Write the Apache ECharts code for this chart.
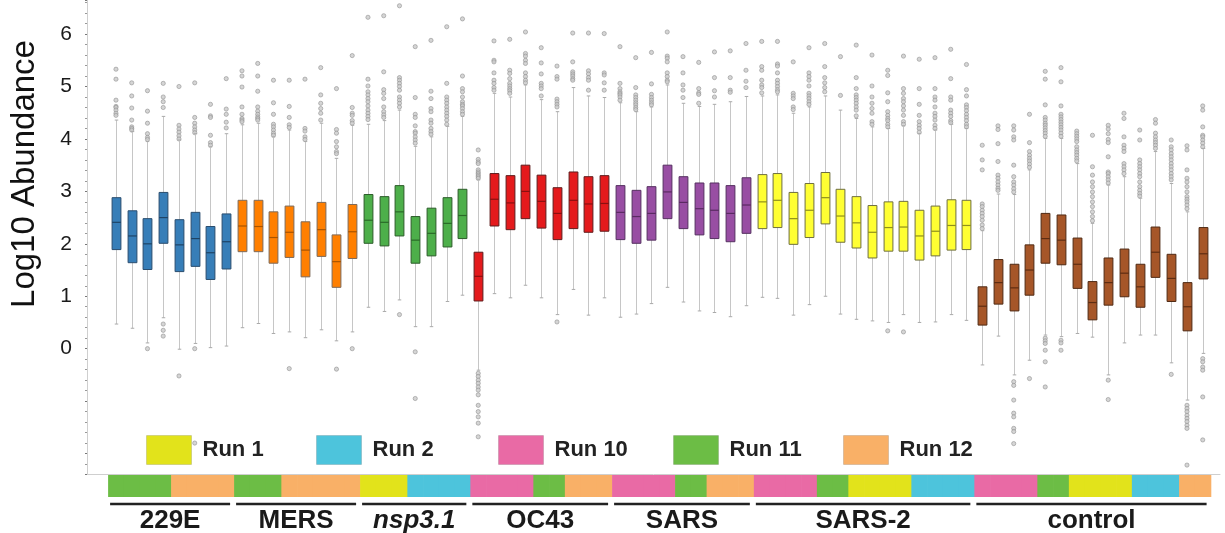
<!DOCTYPE html>
<html><head><meta charset="utf-8">
<script src="https://cdn.jsdelivr.net/npm/echarts@6/dist/echarts.min.js"></script>
<style>html,body{margin:0;padding:0;background:#fff}#c{width:1225px;height:533px}</style>
</head><body><div id="c"></div>
<script>
// ---------------- DATA ----------------
const groups = ['229E', 'MERS', 'nsp3.1', 'OC43', 'SARS', 'SARS-2', 'control'];
const tickLabels = ['0', '1', '2', '3', '4', '5', '6'];
const runNames = ['Run 1', 'Run 2', 'Run 10', 'Run 11', 'Run 12'];
const runNumbers = [1, 2, 10, 11, 12];

// each box: [low whisker, Q1, median, Q3, high whisker] (log10 abundance)
const boxes229E = [
  [0.47, 1.89, 2.41, 2.88, 4.36], [0.39, 1.64, 2.15, 2.63, 4.14], [0.11, 1.51, 2.00, 2.48, 3.95],
  [0.59, 2.01, 2.50, 2.98, 4.43], [-0.01, 1.47, 1.98, 2.46, 3.98], [0.10, 1.57, 2.10, 2.60, 4.10],
  [0.02, 1.32, 1.83, 2.33, 3.85], [0.05, 1.52, 2.04, 2.57, 4.10]
];
const outliers229E = [
  [5.33, 5.14, 4.74, 4.62, 4.60, 4.55, 4.49, 4.45], [5.07, 4.82, 4.59, 4.36, 4.23, 4.20, 4.17],
  [4.92, 4.53, 4.30, 4.10, 4.03, 3.99, 0.00], [5.06, 4.80, 4.71, 4.60, 0.47, 0.35, 0.24],
  [5.00, 4.26, 4.19, 4.13, 4.06, 4.00, -0.52], [5.07, 4.41, 4.30, 4.23, 4.17, 4.12, 0.00, -1.80],
  [4.66, 4.44, 4.41, 4.07, 3.93, 3.88], [5.15, 4.57, 4.47, 4.32, 4.21]
];
const runs229E = [11, 11, 11, 11, 12, 12, 12, 12];

const boxesMERS = [
  [0.40, 1.85, 2.34, 2.83, 4.27], [0.48, 1.85, 2.33, 2.83, 4.30], [0.29, 1.63, 2.12, 2.61, 4.04],
  [0.32, 1.74, 2.22, 2.72, 4.17], [0.21, 1.37, 1.88, 2.42, 3.95], [0.36, 1.76, 2.27, 2.79, 4.30],
  [0.15, 1.17, 1.66, 2.17, 3.63], [0.32, 1.72, 2.23, 2.75, 4.26]
];
const outliersMERS = [
  [5.30, 5.20, 4.99, 4.61, 4.47, 4.39, 4.36, 4.33], [5.44, 5.20, 4.91, 4.61, 4.53, 4.47, 4.42, 4.39, 4.36],
  [5.12, 4.69, 4.47, 4.28, 4.23, 4.17, 4.11, 4.07], [5.12, 4.62, 4.41, 4.27, 4.22, -0.38],
  [5.14, 4.20, 4.15, 4.04, 3.99], [5.36, 4.84, 4.68, 4.58, 4.49, 4.36],
  [4.96, 4.18, 4.11, 3.95, 3.85, 3.76, 3.72, -0.39], [5.59, 4.60, 4.49, 4.45, 4.35, 4.30, 0.00]
];
const runsMERS = [11, 11, 11, 12, 12, 12, 12, 12];

const boxesNsp = [
  [0.79, 2.01, 2.45, 2.94, 4.28], [0.71, 1.96, 2.41, 2.90, 4.35], [0.93, 2.15, 2.61, 3.11, 4.55],
  [0.42, 1.63, 2.07, 2.52, 3.86], [0.42, 1.77, 2.20, 2.68, 4.04], [0.90, 1.94, 2.39, 2.88, 4.24],
  [1.02, 2.10, 2.54, 3.04, 4.43]
];
const outliersNsp = [
  [6.32, 5.14, 5.01, 4.90, 4.84, 4.77, 4.71, 4.63, 4.55, 4.49, 4.43, 4.37],
  [6.35, 5.28, 4.94, 4.87, 4.77, 4.61, 4.52, 4.46, 4.41],
  [6.54, 5.17, 5.12, 5.06, 5.00, 4.93, 4.80, 4.74, 4.68, 4.61, 0.65],
  [5.76, 4.79, 4.47, 4.41, 4.25, 4.14, 4.11, 4.04, 3.98, 3.92, -0.06, -0.95],
  [5.88, 4.91, 4.77, 4.58, 4.52, 4.36, 4.30, 4.20, 4.14, 4.09],
  [6.14, 5.06, 4.80, 4.74, 4.68, 4.61, 4.55, 4.49, 4.43, 4.36, 4.28],
  [6.29, 5.20, 4.96, 4.90, 4.80, 4.71, 4.66, 4.63, 4.58, 4.52, 4.47]
];
const runsNsp = [1, 1, 1, 2, 2, 2, 2];

const boxesOC43 = [
  [-0.41, 0.91, 1.38, 1.84, 3.22], [1.05, 2.34, 2.85, 3.34, 4.87], [0.97, 2.27, 2.78, 3.30, 4.80],
  [1.21, 2.48, 3.00, 3.50, 5.03], [0.97, 2.30, 2.81, 3.31, 4.75], [0.65, 2.08, 2.58, 3.07, 4.52],
  [1.13, 2.29, 2.83, 3.37, 4.98], [0.64, 2.22, 2.76, 3.28, 4.82], [0.97, 2.24, 2.77, 3.30, 4.79]
];
const outliersOC43 = [
  [3.79, 3.61, 3.56, 3.53, 3.41, 3.37, 3.34, 3.31, 3.28, 3.25, -0.47, -0.53, -0.60, -0.66, -0.73, -0.79, -0.88, -1.08, -1.20, -1.30, -1.42, -1.68],
  [5.87, 5.50, 5.47, 5.26, 5.12, 5.06, 4.98, 4.93],
  [5.90, 5.31, 5.25, 5.15, 5.06, 5.01, 4.96, 4.92, 4.87],
  [6.04, 5.63, 5.58, 5.50, 5.44, 5.26, 5.19, 5.12, 5.07],
  [5.74, 5.45, 5.24, 5.06, 5.01, 4.96, 4.82],
  [5.39, 5.19, 5.14, 4.76, 4.71, 4.66, 4.61, 0.51],
  [6.02, 5.47, 5.28, 5.24, 5.20, 5.15, 5.12],
  [6.02, 5.30, 5.24, 5.17, 5.12, 4.93],
  [6.01, 5.26, 5.22, 5.07, 4.93]
];
const runsOC43 = [10, 10, 10, 10, 11, 11, 12, 12, 12];

const boxesSARS = [
  [0.60, 2.08, 2.60, 3.11, 4.69], [0.66, 2.01, 2.52, 3.02, 4.52], [0.86, 2.07, 2.58, 3.09, 4.61],
  [1.17, 2.48, 2.99, 3.50, 5.03], [0.89, 2.29, 2.79, 3.28, 4.68], [0.72, 2.17, 2.67, 3.16, 4.62],
  [0.69, 2.10, 2.64, 3.16, 4.66], [0.61, 2.04, 2.58, 3.11, 4.71], [0.82, 2.20, 2.74, 3.26, 4.81]
];
const outliersSARS = [
  [5.76, 5.06, 4.96, 4.90, 4.87, 4.84, 4.80, 4.74], [5.55, 4.98, 4.84, 4.79, 4.74, 4.69, 4.65, 4.60, 4.56],
  [5.65, 5.05, 4.85, 4.79, 4.74, 4.69, 4.65], [6.04, 5.58, 5.54, 5.47, 5.26, 5.19, 5.12, 5.09],
  [5.57, 5.26, 5.03, 4.93, 4.79], [5.46, 4.96, 4.88, 4.85, 4.68], [5.66, 5.17, 4.92, 4.80],
  [5.68, 5.17, 4.93, 4.89], [5.82, 5.31, 5.10, 4.98]
];
const runsSARS = [10, 10, 10, 10, 11, 11, 12, 12, 12];

const boxesSARS2 = [
  [0.98, 2.29, 2.80, 3.32, 4.82], [0.96, 2.31, 2.83, 3.34, 4.84], [0.64, 1.99, 2.48, 2.98, 4.49],
  [0.84, 2.12, 2.64, 3.15, 4.61], [1.00, 2.38, 2.88, 3.36, 4.82], [0.66, 2.03, 2.53, 3.04, 4.55],
  [0.56, 1.92, 2.40, 2.90, 4.39], [0.53, 1.73, 2.22, 2.73, 4.23], [0.50, 1.86, 2.31, 2.80, 4.20],
  [0.65, 1.86, 2.32, 2.81, 4.25], [0.50, 1.69, 2.15, 2.64, 4.10], [0.51, 1.77, 2.24, 2.72, 4.17],
  [0.65, 1.88, 2.35, 2.84, 4.28], [0.54, 1.89, 2.35, 2.83, 4.20]
];
const outliersSARS2 = [
  [5.86, 5.38, 5.31, 5.12, 5.03, 4.98, 4.88], [5.86, 5.43, 5.39, 5.26, 5.12, 5.06, 5.00, 4.94, 4.90],
  [5.47, 4.87, 4.82, 4.77, 4.61, 4.56], [5.74, 5.26, 5.19, 5.12, 5.01, 4.87, 4.82, 4.77, 4.71, 4.66],
  [5.82, 5.38, 5.17, 5.07, 4.98, 4.90], [5.57, 4.83],
  [5.79, 5.17, 4.96, 4.84, 4.79, 4.74, 4.68, 4.61, 4.55, 4.44],
  [5.60, 5.01, 4.80, 4.68, 4.58, 4.49, 4.33, 4.28],
  [5.31, 5.21, 4.88, 4.71, 4.52, 4.45, 4.39, 4.35, 4.28, 4.23, 0.34],
  [5.58, 4.96, 4.87, 4.77, 4.71, 4.63, 4.55, 4.45, 4.33, 4.28, 0.32],
  [5.52, 4.96, 4.66, 4.45, 4.33, 4.26, 4.20, 4.13],
  [5.55, 4.96, 4.80, 4.74, 4.61, 4.49, 4.43, 4.36, 4.26, 4.20],
  [5.71, 5.15, 4.80, 4.74, 4.55, 4.49, 4.43, 4.35, 4.31],
  [5.42, 4.94, 4.82, 4.65, 4.60, 4.54, 4.47, 4.41, 4.35, 4.28, 4.23]
];
const runsSARS2 = [10, 10, 10, 10, 11, 11, 1, 1, 1, 1, 2, 2, 2, 2];

const boxesControl = [
  [-0.31, 0.45, 0.81, 1.18, 2.25], [0.24, 0.85, 1.26, 1.70, 2.95], [-0.50, 0.72, 1.16, 1.61, 2.94],
  [-0.22, 1.02, 1.50, 1.98, 3.41], [0.26, 1.63, 2.10, 2.58, 4.01], [0.23, 1.60, 2.07, 2.55, 4.01],
  [0.29, 1.15, 1.61, 2.11, 3.53], [0.22, 0.55, 0.88, 1.28, 2.39], [-0.50, 0.83, 1.26, 1.73, 3.12],
  [0.11, 0.99, 1.44, 1.90, 3.28], [0.26, 0.79, 1.18, 1.61, 2.87], [0.26, 1.36, 1.84, 2.32, 3.76],
  [-0.27, 0.90, 1.34, 1.80, 3.15], [-0.98, 0.34, 0.80, 1.26, 2.61], [-0.09, 1.33, 1.81, 2.31, 3.82]
];
const outliersControl = [
  [3.88, 3.60, 3.41, 2.76, 2.71, 2.64, 2.58, 2.52, 2.45, 2.36, 2.29],
  [4.25, 4.18, 3.91, 3.57, 3.31, 3.25, 3.18, 3.12, 3.06, 3.02],
  [4.25, 4.17, 4.04, 3.98, 3.50, 3.28, 3.18, 3.12, 3.05, 2.99, -0.63, -0.70, -0.98, -1.23, -1.30, -1.52, -1.58, -1.81],
  [4.47, 3.93, 3.76, 3.69, 3.63, 3.58, 3.52, 3.46, -0.57],
  [5.29, 5.14, 4.65, 4.41, 4.36, 4.30, 4.26, 4.21, 4.16, 4.11, 4.05, 0.20, 0.15, 0.10, -0.03, -0.25, -0.73],
  [5.36, 5.09, 4.63, 4.47, 4.42, 4.37, 4.32, 4.27, 4.22, 4.17, 4.11, 4.05, 0.16, 0.11, -0.03],
  [4.15, 4.10, 4.05, 4.00, 3.95, 3.85, 3.79, 3.74, 3.69, 3.63, 3.58],
  [4.07, 3.47, 3.31, 3.18, 3.09, 2.99, 2.90, 2.80, 2.71, 2.61, 2.52, 2.44],
  [4.26, 4.19, 4.10, 3.99, 3.93, 3.66, 3.37, 3.34, 3.28, 3.22, 3.16, -0.60, -0.97],
  [4.49, 4.39, 4.04, 3.88, 3.82, 3.76, 3.53, 3.47, 3.41, 3.34],
  [4.17, 3.98, 3.60, 3.53, 3.47, 3.41, 3.34, 3.28, 3.18, 3.09, 3.02, 2.96, 2.91],
  [4.37, 4.30, 4.11, 4.04, 3.98, 3.93, 3.88, 3.82],
  [3.98, 3.85, 3.79, 3.72, 3.66, 3.60, 3.53, 3.47, 3.41, 3.34, 3.28, 3.22, -0.49],
  [3.87, 3.79, 3.41, 3.25, 3.18, 3.09, 2.99, 2.90, 2.85, 2.80, 2.74, 2.67, -1.08, -1.14, -1.20, -1.27, -1.33, -1.39, -1.46, -1.52, -2.22],
  [4.63, 4.55, 4.23, 4.07, 4.04, 3.98, 3.92, 3.85, -0.19, -0.25, -0.35, -0.41, -0.92, -1.74]
];
const runsControl = [10, 10, 10, 10, 11, 11, 1, 1, 1, 1, 2, 2, 2, 12, 12];

// ---------------- STYLE ----------------
const FONT = '"Liberation Sans", Arial, Helvetica, sans-serif';
const groupFill = ['#377eb8', '#ff7f00', '#4daf4a', '#e41a1c', '#984ea3', '#ffff33', '#a65628'];
const groupEdge = ['#2a4d6e', '#7d6a5a', '#2c5c2a', '#5e1d1d', '#553060', '#6e6e40', '#4f2a14'];
const groupMedian = ['#1f4466', '#a85400', '#2a6a28', '#8a1010', '#5a2a62', '#8f8f1c', '#5e2d12'];
const runColor = {1: '#e2e31b', 2: '#4dc4dc', 10: '#e96aa5', 11: '#6cbd45', 12: '#f9b067'};
const legendLeft = [146, 316, 498, 673, 843];

// ---------------- BUILD ----------------
const allBoxes = [boxes229E, boxesMERS, boxesNsp, boxesOC43, boxesSARS, boxesSARS2, boxesControl];
const allOut = [outliers229E, outliersMERS, outliersNsp, outliersOC43, outliersSARS, outliersSARS2, outliersControl];
const allRuns = [runs229E, runsMERS, runsNsp, runsOC43, runsSARS, runsSARS2, runsControl];

const boxData = [], outData = [], runData = [], groupData = [], cats = [];
let idx = 0;
allBoxes.forEach((list, g) => {
  const start = idx;
  list.forEach((b, i) => {
    cats.push(String(idx));
    boxData.push([idx, b[0], b[1], b[2], b[3], b[4], g]);
    allOut[g][i].forEach(v => outData.push([idx, v]));
    runData.push([idx, allRuns[g][i]]);
    idx++;
  });
  groupData.push([start, idx - 1, g]);
});

const YMIN = -2.39, YMAX = 6.65;
const plotLeft = 108.1, plotWidth = 1102.5;

const chart = echarts.init(document.getElementById('c'), null, {renderer: 'canvas'});
const option = {
  backgroundColor: '#fff',
  animation: false,
  textStyle: {fontFamily: FONT},
  grid: [
    {left: 87, right: 5, top: 0, height: 474, outerBoundsMode: 'none'},
    {left: plotLeft, width: plotWidth, top: 0, height: 474, outerBoundsMode: 'none'},
    {left: plotLeft, width: plotWidth, top: 475, height: 22, outerBoundsMode: 'none'},
    {left: plotLeft, width: plotWidth, top: 500, height: 33, outerBoundsMode: 'none'}
  ],
  xAxis: [
    {gridIndex: 0, type: 'value', min: 0, max: 1, axisLine: {show: true, onZero: false, lineStyle: {color: '#cfcfcf', width: 1}},
      axisTick: {show: false}, axisLabel: {show: false}, splitLine: {show: false}},
    {gridIndex: 1, type: 'category', data: cats, show: false},
    {gridIndex: 2, type: 'category', data: cats, show: false},
    {gridIndex: 3, type: 'category', data: cats, show: false}
  ],
  yAxis: [
    {gridIndex: 0, type: 'value', min: YMIN, max: YMAX, splitNumber: 9, minInterval: 1, maxInterval: 1,
      axisLine: {show: true, lineStyle: {color: '#cfcfcf', width: 1}},
      axisTick: {show: true, length: 2, lineStyle: {color: '#777'}},
      minorTick: {show: true, splitNumber: 5, length: 2, lineStyle: {color: '#999'}},
      splitLine: {show: false},
      axisLabel: {margin: 15, fontSize: 21, color: '#1a1a1a', fontFamily: FONT,
        formatter: v => { const r = Math.round(v); return (Math.abs(v - r) < 1e-6 && tickLabels[r] !== undefined) ? tickLabels[r] : ''; }}
    },
    {gridIndex: 1, type: 'value', min: YMIN, max: YMAX, show: false},
    {gridIndex: 2, type: 'value', min: 0, max: 1, show: false},
    {gridIndex: 3, type: 'value', min: 0, max: 1, show: false}
  ],
  legend: runNames.map((n, i) => ({
    data: [n], left: legendLeft[i], top: 435, icon: 'rect', itemWidth: 45, itemHeight: 29,
    selectedMode: false, padding: 0,
    itemStyle: {borderColor: 'rgba(0,0,0,0.12)', borderWidth: 1},
    textStyle: {fontSize: 22, fontWeight: 'bold', color: '#222', fontFamily: FONT, padding: [0, 0, 0, 6]}
  })),
  graphic: [{
    type: 'text', x: 25, y: 174, rotation: Math.PI / 2,
    style: {text: 'Log10 Abundance', font: '33px ' + FONT, fill: '#111', align: 'center', verticalAlign: 'middle'}
  }],
  series: [
    {
      type: 'scatter', name: 'outliers', xAxisIndex: 1, yAxisIndex: 1, data: outData, z: 2,
      symbol: 'circle', symbolSize: 4.2, silent: true,
      itemStyle: {color: '#cbcbcb', borderColor: '#8a8a8a', borderWidth: 0.7}
    },
    {
      type: 'custom', name: 'boxes', xAxisIndex: 1, yAxisIndex: 1, data: boxData, z: 3, silent: true,
      renderItem: (params, api) => {
        const i = api.value(0), g = api.value(6);
        const lo = api.coord([i, api.value(1)]), q1 = api.coord([i, api.value(2)]);
        const md = api.coord([i, api.value(3)]), q3 = api.coord([i, api.value(4)]);
        const hi = api.coord([i, api.value(5)]);
        const slot = api.size([1, 0])[0];
        const bw = slot * 0.56, cw = 3.5;
        const x = Math.round(lo[0]) + 0.5;
        return {type: 'group', children: [
          {type: 'line', shape: {x1: x, y1: hi[1], x2: x, y2: lo[1]}, style: {stroke: '#c6c6c6', lineWidth: 1}},
          {type: 'line', shape: {x1: x - cw / 2, y1: hi[1], x2: x + cw / 2, y2: hi[1]}, style: {stroke: '#aaaaaa', lineWidth: 1}},
          {type: 'line', shape: {x1: x - cw / 2, y1: lo[1], x2: x + cw / 2, y2: lo[1]}, style: {stroke: '#aaaaaa', lineWidth: 1}},
          {type: 'rect', shape: {x: x - bw / 2, y: q3[1], width: bw, height: q1[1] - q3[1]},
            style: {fill: groupFill[g], stroke: groupEdge[g], lineWidth: 1}},
          {type: 'line', shape: {x1: x - bw / 2, y1: md[1], x2: x + bw / 2, y2: md[1]}, style: {stroke: groupMedian[g], lineWidth: 1.2}}
        ]};
      }
    },
    {
      type: 'custom', name: 'runbar', xAxisIndex: 2, yAxisIndex: 2, data: runData, silent: true,
      renderItem: (params, api) => {
        const i = api.value(0), r = api.value(1);
        const c = api.coord([i, 0]);
        const slot = api.size([1, 0])[0];
        const cs = params.coordSys;
        return {type: 'rect', shape: {x: c[0] - slot / 2, y: cs.y, width: slot + 0.7, height: cs.height},
          style: {fill: runColor[r]}};
      }
    },
    {
      type: 'custom', name: 'groups', xAxisIndex: 3, yAxisIndex: 3, data: groupData, silent: true,
      renderItem: (params, api) => {
        const s = api.value(0), e = api.value(1), g = api.value(2);
        const slot = api.size([1, 0])[0];
        const x0 = api.coord([s, 0])[0] - slot / 2 + 2;
        const x1 = api.coord([e, 0])[0] + slot / 2 - 4;
        const top = params.coordSys.y;
        const italic = groups[g] === 'nsp3.1' ? 'italic ' : '';
        return {type: 'group', children: [
          {type: 'line', shape: {x1: x0, y1: top + 4, x2: x1, y2: top + 4}, style: {stroke: '#222', lineWidth: 2.5}},
          {type: 'text', style: {text: groups[g], x: (x0 + x1) / 2, y: top + 21, align: 'center', verticalAlign: 'middle',
            font: italic + 'bold 26px ' + FONT, fill: '#1a1a1a'}}
        ]};
      }
    }
  ].concat(runNames.map((n, i) => ({
    type: 'bar', name: n, xAxisIndex: 2, yAxisIndex: 2, data: [],
    itemStyle: {color: runColor[runNumbers[i]]}
  })))
};
chart.setOption(option);
</script>
</body></html>
